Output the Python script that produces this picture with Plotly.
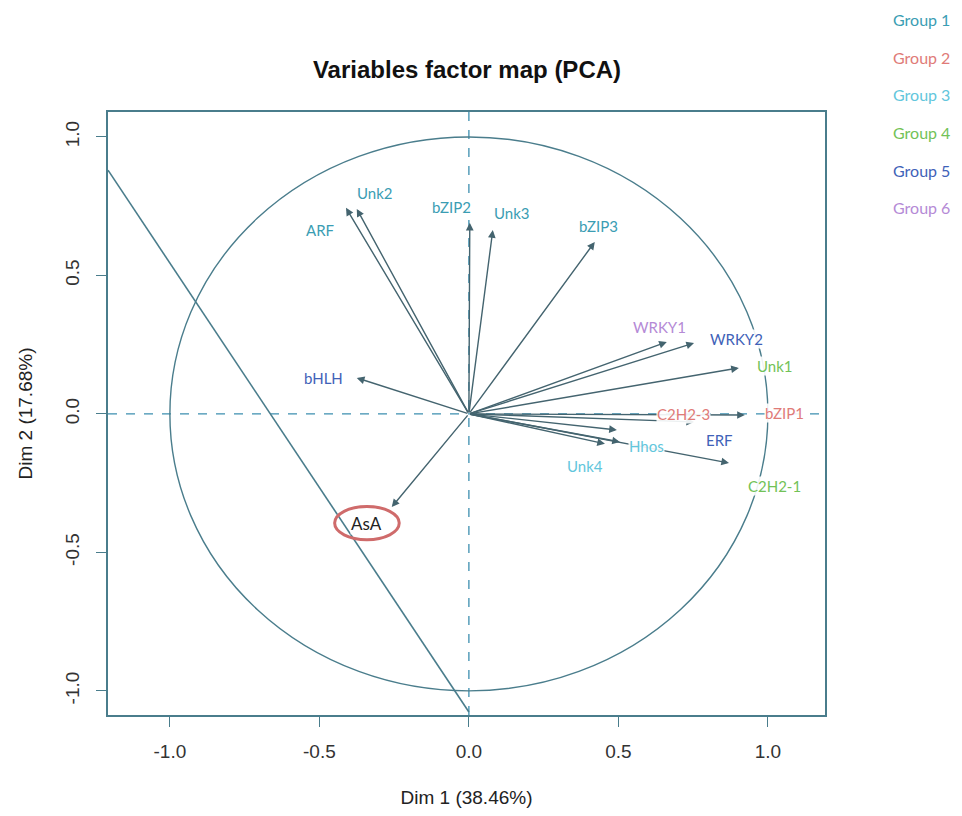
import plotly.graph_objects as go

# variables: arrow tips (Dim 1, Dim 2), label positions, group
variables = ["Unk2", "ARF", "bZIP2", "Unk3", "bZIP3", "WRKY1", "WRKY2", "Unk1",
             "C2H2-3", "bZIP1", "ERF", "Hhos", "Unk4", "C2H2-1", "bHLH", "AsA"]
dim1 = [-0.375, -0.411, 0.003, 0.080, 0.421, 0.662, 0.753, 0.903,
        0.753, 0.923, 0.495, 0.505, 0.455, 0.870, -0.375, -0.258]
dim2 = [0.740, 0.744, 0.690, 0.664, 0.621, 0.260, 0.256, 0.166,
        -0.029, -0.004, -0.058, -0.101, -0.108, -0.177, 0.130, -0.336]
label_x = [-0.314, -0.498, -0.057, 0.144, 0.435, 0.639, 0.896, 1.023,
           0.719, 1.057, 0.839, 0.595, 0.388, 1.023, -0.485, -0.341]
label_y = [0.798, 0.664, 0.747, 0.726, 0.679, 0.314, 0.271, 0.173,
           0.0, 0.004, -0.094, -0.116, -0.188, -0.260, 0.130, -0.394]
group = [1, 1, 1, 1, 1, 6, 5, 4, 2, 2, 5, 3, 3, 4, 5, 0]

group_names = ["Group 1", "Group 2", "Group 3", "Group 4", "Group 5", "Group 6"]
group_colors = ["#3a9db3", "#e07b78", "#62c6dc", "#72c257", "#3f62b8", "#b58ad6"]

# stray diagonal line drawn across the map
diag_x = [-1.207, 0.0]
diag_y = [0.88, -1.076]

tick_vals = [-1.0, -0.5, 0.0, 0.5, 1.0]
tick_text = ["-1.0", "-0.5", "0.0", "0.5", "1.0"]

line_col = "#4a7d8c"
arrow_col = "#44646f"

# page body has an 8px margin, so the figure is a bit smaller than the window
W, H, OFF = 946, 800, 8

fig = go.Figure()

fig.add_trace(go.Scatter(x=diag_x, y=diag_y, mode="lines",
                         line=dict(color=line_col, width=1.6),
                         hoverinfo="skip", showlegend=False))

shapes = [
    dict(type="circle", xref="x", yref="y", x0=-1, y0=-1, x1=1, y1=1,
         line=dict(color=line_col, width=1.4), layer="below"),
    dict(type="line", xref="x", yref="paper", x0=0, x1=0, y0=0, y1=1,
         line=dict(color="#3d8fb0", width=1.3, dash="dash"), layer="below"),
    dict(type="line", xref="paper", yref="y", x0=0, x1=1, y0=0, y1=0,
         line=dict(color="#3d8fb0", width=1.3, dash="dash"), layer="below"),
]

annotations = []
# arrows from the origin
for x, y in zip(dim1, dim2):
    annotations.append(dict(x=x, y=y, ax=0, ay=0, xref="x", yref="y",
                            axref="x", ayref="y", text="", showarrow=True,
                            arrowhead=2, arrowsize=1.1, arrowwidth=1.4,
                            arrowcolor=arrow_col))
# labels
for name, lx, ly, g in zip(variables, label_x, label_y, group):
    col = "#222222" if g == 0 else group_colors[g - 1]
    annotations.append(dict(x=lx, y=ly, xref="x", yref="y", text=name,
                            showarrow=False, bgcolor="rgba(255,255,255,0.9)",
                            borderpad=0,
                            font=dict(family="Lato", size=17 if g == 0 else 15, color=col)))
    if g == 0:
        shapes.append(dict(type="circle", xref="x", yref="y",
                           x0=lx - 0.108, x1=lx + 0.108, y0=ly - 0.06, y1=ly + 0.06,
                           line=dict(color="#cf6b6b", width=3)))

# group legend at the top right
for i, (gname, gcol) in enumerate(zip(group_names, group_colors)):
    annotations.append(dict(x=1.134, y=1.153 - i * 0.0624, xref="paper", yref="paper",
                            xanchor="center", yanchor="middle",
                            text=gname, showarrow=False,
                            font=dict(family="Lato", size=16, color=gcol)))

axis_common = dict(showgrid=False, zeroline=False, showline=True, mirror=True,
                   automargin=False,
                   linecolor=line_col, linewidth=1.6, ticks="outside", ticklen=10,
                   tickcolor=line_col, tickwidth=1.4, tickvals=tick_vals,
                   ticktext=tick_text,
                   tickfont=dict(family="Liberation Sans", size=19, color="#333333"))

fig.update_layout(
    width=W, height=H,
    margin=dict(l=108 - OFF, r=W - (825 - OFF), t=112 - OFF, b=H - (715 - OFF)),
    paper_bgcolor="white", plot_bgcolor="white",
    showlegend=False,
    title=dict(text="<b>Variables factor map (PCA)</b>", x=(467 - OFF) / W, xanchor="center",
               y=1 - (70 - OFF) / H, yanchor="middle",
               font=dict(family="Liberation Sans", size=24, color="#111111")),
    xaxis=dict(range=[-1.207, 1.191],
               title=dict(text="Dim 1 (38.46%)", standoff=38,
                          font=dict(family="Liberation Sans", size=19, color="#222222")),
               ticklabelstandoff=8, **axis_common),
    yaxis=dict(range=[-1.087, 1.090], tickangle=-90,
               title=dict(text="Dim 2 (17.68%)", standoff=24,
                          font=dict(family="Liberation Sans", size=19, color="#222222")),
               ticklabelstandoff=10, **axis_common),
    shapes=shapes,
    annotations=annotations,
)

fig.write_html("out.html")
